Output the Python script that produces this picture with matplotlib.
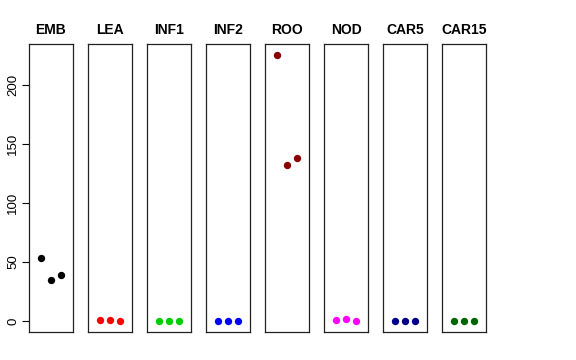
import matplotlib
matplotlib.use("Agg")
from matplotlib import pyplot as plt

plt.rcParams['font.family'] = ['Liberation Sans', 'DejaVu Sans']

# tissue groups and replicate values
tissues = ['EMB', 'LEA', 'INF1', 'INF2', 'ROO', 'NOD', 'CAR5', 'CAR15']
values = [
    [53, 35, 39],
    [0.8, 1.0, 0.0],
    [0.2, 0.2, 0.2],
    [0.3, 0.3, 0.3],
    [225, 132, 137.5],
    [1.0, 1.8, 0.0],
    [0.1, 0.1, 0.1],
    [0.2, 0.2, 0.2],
]
colors = ['black', 'red', '#00CD00', 'blue', '#8B0000', 'magenta', '#00008B', '#006400']
reps = [1, 2, 3]

fig = plt.figure(figsize=(5.76, 3.6), dpi=100)
W, H = 576, 360
for i, (name, vals, col) in enumerate(zip(tissues, values, colors)):
    left = 29 + i * 59
    ax = fig.add_axes([left / W, (H - 332) / H, 44 / W, 288 / H])
    ax.scatter(reps, vals, color=col, s=28, zorder=3, linewidths=0)
    ax.set_xlim(-0.16, 4.16)
    ax.set_ylim(-9.4, 234.4)
    ax.set_xticks([])
    ax.set_title(name, fontsize=10, fontweight='bold', pad=7)
    for sp in ax.spines.values():
        sp.set_linewidth(0.9)
        sp.set_color('#222222')
    if i == 0:
        ax.set_yticks([0, 50, 100, 150, 200])
        ax.tick_params(axis='y', labelsize=9.5, length=5, pad=2)
        for lab in ax.get_yticklabels():
            lab.set_rotation(90)
            lab.set_va('center')
    else:
        ax.set_yticks([])

fig.savefig('out.png', dpi=100)
